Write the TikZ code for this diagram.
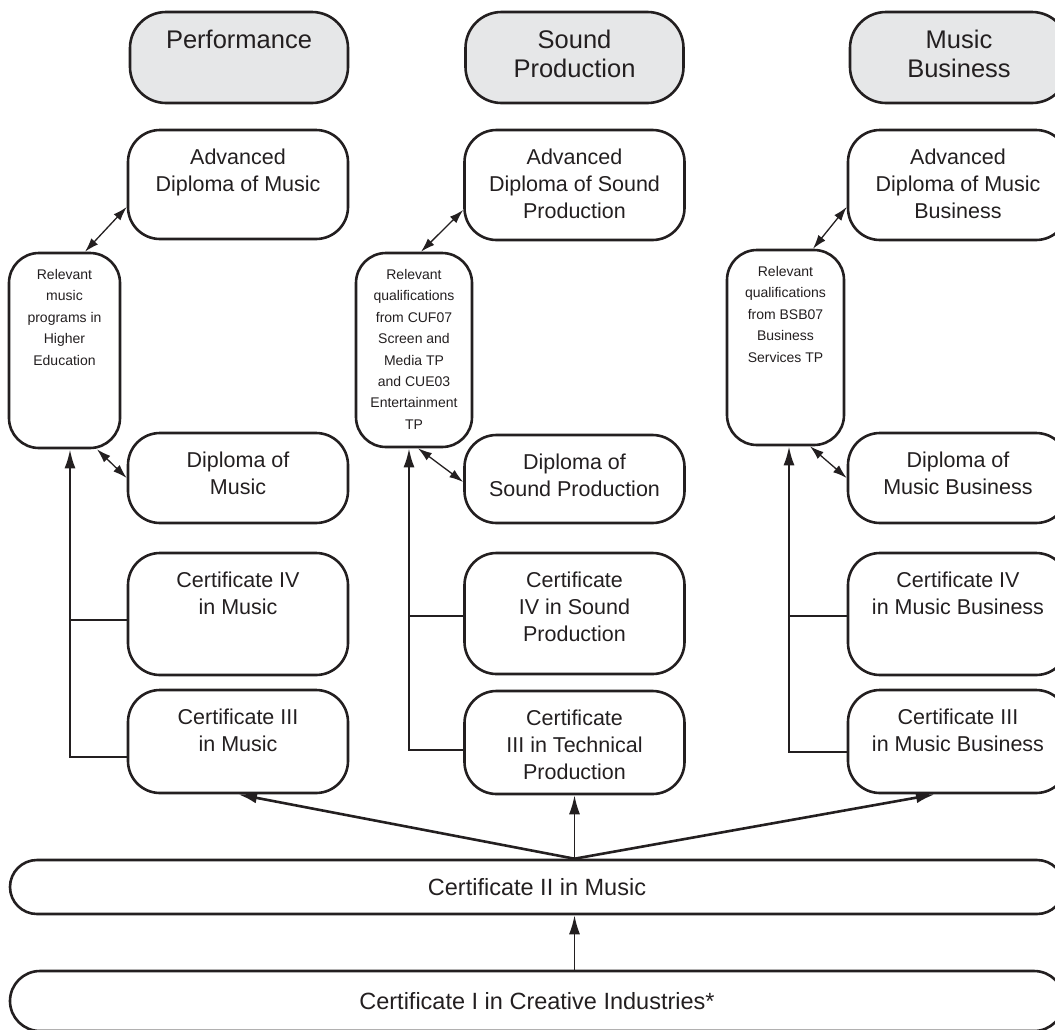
\documentclass[tikz,border=0pt]{standalone}
\usepackage{fontspec}
\setmainfont{Liberation Sans}
\usetikzlibrary{calc, arrows.meta, positioning}
\definecolor{ink}{HTML}{231F20}
\definecolor{hd}{HTML}{E6E7E8}
\newcommand{\cardtext}[4][19.3pt]{\parbox[c][#2][t]{#3}{\centering\vspace*{#1}#4}}

\begin{document}
\begin{tikzpicture}[x=1pt, y=-1pt,
	card/.style={draw=ink, line width=2.6pt, rounded corners=32pt, inner sep=0pt, text=ink, font=\fontsize{21.5}{27}\selectfont},
	head/.style={card, fill=hd, rounded corners=36pt, font=\fontsize{25.5}{29}\selectfont},
	side/.style={card, rounded corners=30pt, font=\fontsize{14}{21.4}\selectfont},
	wide/.style={draw=ink, line width=2.6pt, inner sep=0pt, text=ink, font=\fontsize{23.5}{28}\selectfont},
	arr/.style={draw=ink, line width=2.6pt, -{Latex[length=19pt, width=11pt]}},
	link/.style={draw=ink, line width=2.3pt},
	dbl/.style={draw=ink, line width=1.3pt, {Latex[length=14pt, width=9pt]}-{Latex[length=14pt, width=9pt]}}]
	\useasboundingbox (0,0) rectangle (1055,1029);
	
	% Performance
	\node[head] (hd1) at (239,57.5) {\cardtext[18.5pt]{91pt}{218pt}{Performance}};
	\node[card] (adv1) at (238,184.5) {\cardtext{109pt}{220pt}{Advanced\\Diploma of Music}};
	\node[side] (rel1) at (64.5,350.5) {\cardtext[16.3pt]{195pt}{111pt}{Relevant\\music\\programs in\\Higher\\Education}};
	\node[card] (dip1) at (238,478) {\cardtext{90pt}{220pt}{Diploma of\\Music}};
	\node[card] (c4m) at (238,614) {\cardtext{122pt}{220pt}{Certificate IV\\in Music}};
	\node[card] (c3m) at (238,741.5) {\cardtext{103pt}{220pt}{Certificate III\\in Music}};
	
	% Sound Production
	\node[head] (hd2) at (574.5,57.5) {\cardtext[18.5pt]{91pt}{218pt}{Sound\\Production}};
	\node[card] (adv2) at (574.5,185) {\cardtext{110pt}{220pt}{Advanced\\Diploma of Sound\\Production}};
	\node[side] (rel2) at (414,350) {\cardtext[16.3pt]{194pt}{116pt}{Relevant\\qualifications\\from CUF07\\Screen and\\Media TP\\and CUE03\\Entertainment\\TP}};
	\node[card] (dip2) at (574.5,479) {\cardtext{88pt}{220pt}{Diploma of\\Sound Production}};
	\node[card] (c4s) at (574.5,613.5) {\cardtext{121pt}{220pt}{Certificate\\IV in Sound\\Production}};
	\node[card] (c3t) at (574.5,742.5) {\cardtext{103pt}{220pt}{Certificate\\III in Technical\\Production}};
	
	% Music Business
	\node[head] (hd3) at (959,57.5) {\cardtext[18.5pt]{91pt}{218pt}{Music\\Business}};
	\node[card] (adv3) at (958,185) {\cardtext{110pt}{220pt}{Advanced\\Diploma of Music\\Business}};
	\node[side] (rel3) at (785.5,347.5) {\cardtext[16.3pt]{195pt}{117pt}{Relevant\\qualifications\\from BSB07\\Business\\Services TP}};
	\node[card] (dip3) at (958,478) {\cardtext{90pt}{220pt}{Diploma of\\Music Business}};
	\node[card] (c4b) at (958,614) {\cardtext{122pt}{220pt}{Certificate IV\\in Music Business}};
	\node[card] (c3b) at (958,741.5) {\cardtext{103pt}{220pt}{Certificate III\\in Music Business}};
	
	% entry level
	\node[wide, rounded corners=27pt, minimum width=1054pt, minimum height=54pt] (cII) at (537,887) {Certificate II in Music};
	\node[wide, rounded corners=30pt, minimum width=1054pt, minimum height=60pt] (cI) at (537,1001) {Certificate I in Creative Industries*};
	
	\coordinate (hub) at (cII.north -| c3t.south);
	\draw[arr] (hub) -- (c3m.south);
	\draw[arr, line width=1.8pt] (hub) -- (c3t.south);
	\draw[arr] (hub) -- ($(c3b.south)+(-23,0)$);
	\draw[arr, line width=1.8pt] (cI.north -| hub) -- (cII.south -| hub);
	
	% pathways up the columns
	\coordinate (j1) at ($(rel1.south)+(5.5,0)$);
	\coordinate (t1) at ($(c4m.west)+(0,6)$);
	\draw[arr, line width=2.3pt] ($(c3m.west)+(0,15.5)$) -| (j1);
	\draw[link] (t1) -- (t1 -| j1);
	
	\coordinate (j2) at ($(rel2.south)+(-5,0)$);
	\coordinate (t2) at ($(c4s.west)+(0,2.5)$);
	\draw[arr, line width=2.3pt] ($(c3t.west)+(0,7.5)$) -| (j2);
	\draw[link] (t2) -- (t2 -| j2);
	
	\coordinate (j3) at ($(rel3.south)+(3.5,0)$);
	\coordinate (t3) at ($(c4b.west)+(0,2)$);
	\draw[arr, line width=2.3pt] ($(c3b.west)+(0,10.5)$) -| (j3);
	\draw[link] (t3) -- (t3 -| j3);
	
	% links to higher education
	\draw[dbl] ($(rel1.north)+(20.5,0)$) -- ($(adv1.west)+(0,22.5)$);
	\draw[dbl] ($(rel1.south)+(32.5,0)$) -- (dip1.west);
	\draw[dbl] ($(rel2.north)+(7,0)$) -- ($(adv2.west)+(0,25)$);
	\draw[dbl] ($(rel2.south)+(4,0)$) -- ($(dip2.west)+(0,3)$);
	\draw[dbl] ($(rel3.north)+(27.5,0)$) -- ($(adv3.west)+(0,22)$);
	\draw[dbl] ($(rel3.south)+(24.5,0)$) -- (dip3.west);
\end{tikzpicture}
\end{document}
